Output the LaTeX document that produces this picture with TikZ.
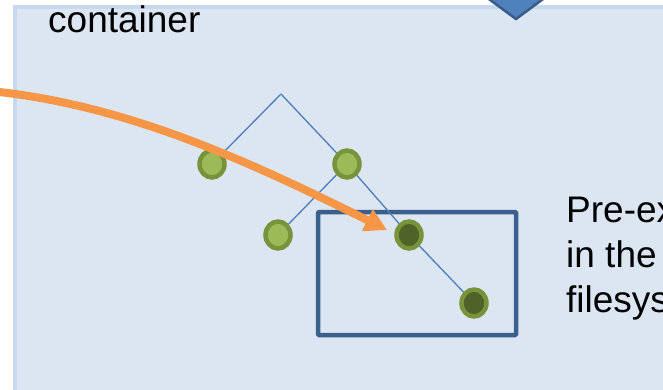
\documentclass[tikz,border=0pt]{standalone}
\usepackage{fontspec}
\setmainfont{Liberation Sans}
\usetikzlibrary{arrows.meta,shapes.geometric}
\definecolor{panelfill}{HTML}{DCE6F2}
\definecolor{panelline}{HTML}{C6D9F1}
\definecolor{treeblue}{HTML}{4A7EBB}
\definecolor{boxblue}{HTML}{3A5F8B}
\definecolor{arrowblue}{HTML}{4F81BD}
\definecolor{arrowedge}{HTML}{385D8A}
\definecolor{ringgreen}{HTML}{77933C}
\definecolor{lightgreen}{HTML}{9BBB59}
\definecolor{darkgreen}{HTML}{4F6228}
\definecolor{orangearrow}{HTML}{F79646}
\tikzset{
  fnode/.style={ellipse, draw=ringgreen, line width=4.5pt, fill=lightgreen, minimum width=25pt, minimum height=27pt, inner sep=0pt},
  dnode/.style={fnode, fill=darkgreen},
  treeline/.style={draw=treeblue, line width=1.3pt},
  lbl/.style={inner sep=0pt, anchor=base west, font=\fontsize{37}{45}\selectfont},
  orangearr/.style={draw=orangearrow, line width=8pt, -{Triangle[width=23pt,length=22pt]}}
}
\begin{document}
\begin{tikzpicture}[x=1pt,y=-1pt]
\useasboundingbox (0,0) rectangle (663,389);
\clip (0,0) rectangle (663,389);
\fill[white] (0,0) rectangle (663,389);
% panel
\draw[fill=panelfill, draw=panelline, line width=4pt] (15,7) rectangle (700,420);
% top block arrow head
\draw[fill=arrowblue, draw=arrowedge, line width=2.5pt, line join=miter] (474,-12) -- (516,19) -- (558,-12) -- cycle;
% label
\node[lbl] (cont) at (48,32) {container};
% box
\draw[draw=boxblue, line width=4.5pt, rounded corners=1pt] (318,212) rectangle (516,335);
% tree
\coordinate (apex) at (281,94);
\node[fnode] (l1) at (212,164) {};
\node[fnode] (r1) at (347,164) {};
\node[fnode] (l2) at (278,235) {};
\node[dnode] (r2) at (409,235) {};
\node[dnode] (r3) at (474,303) {};
\draw[treeline] (apex) -- (l1);
\draw[treeline] (apex) -- (r1);
\draw[treeline] (r1) -- (l2);
\draw[treeline] (r1) -- (r2);
\draw[treeline] (r2) -- (r3);
% orange arrow
\coordinate (astart) at (-10,91);
\coordinate (atip) at (387,230);
\draw[orangearr] (astart) .. controls (120,104) and (237,155) .. (atip);
% right text
\node[lbl] (t1) at (566,222) {Pre-ex};
\node[lbl] (t2) at (566,267) {in the};
\node[lbl] (t3) at (566,312) {filesys};
\end{tikzpicture}
\end{document}
